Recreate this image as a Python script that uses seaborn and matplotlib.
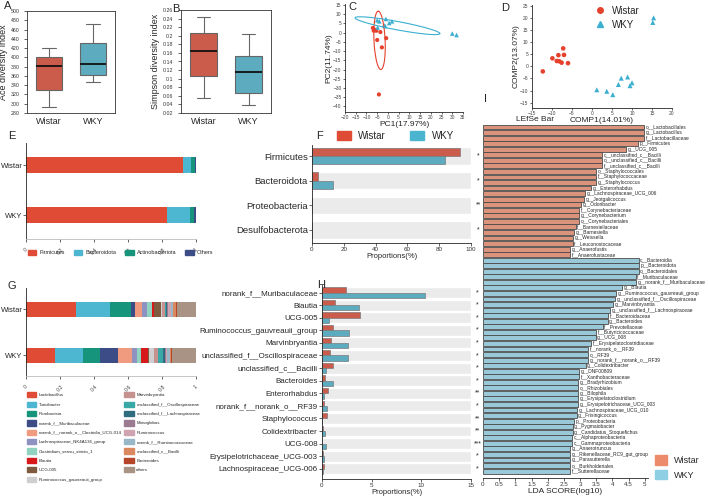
import numpy as np
import pandas as pd
import matplotlib
matplotlib.use("Agg")
import matplotlib.pyplot as plt
import seaborn as sns
from matplotlib.patches import Patch
from matplotlib.lines import Line2D

# ---- data ----
groups = ["Wistar", "WKY"]

# A / B: min, q1, median, q3, max
ace_wistar = [292, 330, 382, 401, 420]
ace_wky = [347, 362, 385, 431, 473]
simpson_wistar = [0.055, 0.106, 0.165, 0.207, 0.243]
simpson_wky = [0.038, 0.067, 0.116, 0.152, 0.205]

# C: PCA
pca_wistar_x = [-7.0, -6.6, -6.1, -5.4, -3.5, -5.0, -0.8, -2.8, -4.2]
pca_wistar_y = [2.5, 1.0, 1.5, 1.0, 0.3, -4.0, -3.0, -8.0, -33.5]
pca_wky_x = [-5.0, -4.0, -4.8, -0.9, 0.6, 1.9, -1.8, -1.2, 30.0, 32.0]
pca_wky_y = [6.7, 6.1, 2.8, 7.4, 5.2, 6.1, 4.0, 3.5, -0.5, -1.3]
# ellipses: centre, major half-axis vector, minor half-axis vector
ell_wistar = [(-3.9, -4.2), (-0.6, 15.8), (2.6, 0.0)]
ell_wky = [(4.45, 3.75), (19.75, -4.25), (0.0, 2.3)]

# D: PLS-DA
comp_wistar_x = [-12.3, -9.9, -8.8, -8.4, -8.2, -7.6, -7.2, -7.0, -6.0]
comp_wistar_y = [-2.1, 3.3, 2.2, 4.6, 2.1, 1.5, 7.4, 4.7, 1.3]
comp_wky_x = [15.4, 15.2, 1.2, 3.7, 5.2, 7.3, 6.6, 8.9, 10.0, 9.5]
comp_wky_y = [20.0, 18.1, -9.7, -10.3, -11.7, -4.9, -7.5, -4.4, -6.8, -8.0]

# E: phylum composition
phyla = ["Firmicutes", "Bacteroidota", "Actinobacteriota", "Others"]
phyla_wistar = [0.925, 0.044, 0.025, 0.006]
phyla_wky = [0.831, 0.136, 0.019, 0.014]
phyla_colors = ["#E04B35", "#4DB6D1", "#17957C", "#3B4C86"]

# F: phylum differences
f_taxa = ["Firmicutes", "Bacteroidota", "Proteobacteria", "Desulfobacterota"]
f_wistar = [93.0, 4.0, 0.15, 0.1]
f_wky = [83.4, 13.4, 0.3, 0.05]
f_sig = ["*", "*", "**", "*"]

# G: genus composition
genera = ["Lactobacillus", "Turicibacter", "Romboutsia", "norank_f__Muribaculaceae",
          "norank_f__norank_o__Clostridia_UCG-014", "Lachnospiraceae_NK4A136_group",
          "Clostridium_sensu_stricto_1", "Blautia", "UCG-005", "Ruminococcus_gauvreauii_group",
          "Marvinbryantia", "unclassified_f__Oscillospiraceae", "unclassified_f__Lachnospiraceae",
          "Monoglobus", "Ruminococcus", "norank_f__Ruminococcaceae", "unclassified_c__Bacilli",
          "Bacteroides", "others"]
genera_wistar = [0.295, 0.202, 0.122, 0.022, 0.041, 0.031, 0.028, 0.010, 0.043, 0.008,
                 0.014, 0.008, 0.006, 0.006, 0.016, 0.012, 0.020, 0.003, 0.113]
genera_wky = [0.171, 0.167, 0.098, 0.104, 0.085, 0.029, 0.022, 0.041, 0.005, 0.030,
              0.024, 0.028, 0.014, 0.008, 0.006, 0.014, 0.004, 0.010, 0.140]
genera_colors = ["#E04B35", "#4DB6D1", "#17957C", "#3B4C86", "#F09A80", "#8D92C0",
                 "#8FD3C0", "#D7191C", "#7E5B3E", "#CFCFCF", "#C59290", "#3AA8A6",
                 "#2F6C80", "#9A7B91", "#CFA3B0", "#9AB7C8", "#D9885F", "#B5462A", "#A99385"]

# H: genus differences
h_taxa = ["norank_f__Muribaculaceae", "Blautia", "UCG-005", "Ruminococcus_gauvreauii_group",
          "Marvinbryantia", "unclassified_f__Oscillospiraceae", "unclassified_c__Bacilli",
          "Bacteroides", "Enterorhabdus", "norank_f__norank_o__RF39", "Staphylococcus",
          "Colidextribacter", "UCG-008", "Erysipelotrichaceae_UCG-003", "Lachnospiraceae_UCG-006"]
h_wistar = [2.4, 1.3, 3.8, 1.1, 0.9, 0.85, 1.15, 0.27, 0.6, 0.2, 0.55, 0.1, 0.03, 0.1, 0.2]
h_wky = [10.4, 3.7, 0.7, 2.7, 2.6, 2.6, 0.45, 1.15, 0.22, 0.5, 0.03, 0.3, 0.38, 0.2, 0.1]
h_sig = ["*", "*", "*", "*", "*", "*", "*", "*", "**", "*", "**", "**", "***", "*", "*"]

# I: LEfSe
lefse_wistar_taxa = ["o__Lactobacillales", "g__Lactobacillus", "f__Lactobacillaceae", "p__Firmicutes",
                     "g__UCG_005", "c__unclassified_c__Bacilli", "o__unclassified_c__Bacilli",
                     "f__unclassified_c__Bacilli", "o__Staphylococcales", "f__Staphylococcaceae",
                     "g__Staphylococcus", "g__Enterorhabdus", "g__Lachnospiraceae_UCG_006",
                     "g__Jeotgalicoccus", "g__Odoribacter", "f__Corynebacteriaceae",
                     "g__Corynebacterium", "o__Corynebacteriales", "f__Barnesiellaceae",
                     "g__Barnesiella", "g__Weissella", "f__Leuconostocaceae", "g__Anaerofustis",
                     "f__Anaerofustaceae"]
lefse_wistar_lda = [4.98, 4.98, 4.98, 4.79, 4.42, 3.68, 3.68, 3.68, 3.50, 3.49, 3.49, 3.35, 3.16,
                    3.12, 3.02, 2.97, 2.97, 2.96, 2.86, 2.82, 2.78, 2.77, 2.70, 2.70]
lefse_wky_taxa = ["c__Bacteroidia", "p__Bacteroidota", "o__Bacteroidales", "f__Muribaculaceae",
                  "g__norank_f__Muribaculaceae", "g__Blautia", "g__Ruminococcus_gauvreauii_group",
                  "g__unclassified_f__Oscillospiraceae", "g__Marvinbryantia",
                  "g__unclassified_f__Lachnospiraceae", "f__Bacteroidaceae", "g__Bacteroides",
                  "f__Prevotellaceae", "f__Butyricicoccaceae", "g__UCG_008",
                  "f__Erysipelatoclostridiaceae", "f__norank_o__RF39", "o__RF39",
                  "g__norank_f__norank_o__RF39", "g__Colidextribacter", "g__DNF00809",
                  "f__Xanthobacteraceae", "g__Bradyrhizobium", "o__Rhizobiales", "g__Bilophila",
                  "g__Erysipelatoclostridium", "g__Erysipelotrichaceae_UCG_003",
                  "g__Lachnospiraceae_UCG_010", "g__Frisingicoccus", "p__Proteobacteria",
                  "g__Pygmaiobacter", "g__Candidatus_Stoquefichus", "c__Alphaproteobacteria",
                  "c__Gammaproteobacteria", "g__Anaerotruncus", "g__Rikenellaceae_RC9_gut_group",
                  "g__Parasutterella", "o__Burkholderiales", "f__Sutterellaceae"]
lefse_wky_lda = [4.81, 4.81, 4.81, 4.72, 4.72, 4.30, 4.10, 4.08, 4.02, 3.94, 3.87, 3.85, 3.70,
                 3.49, 3.48, 3.35, 3.26, 3.24, 3.24, 3.17, 2.97, 2.97, 2.95, 2.94, 2.93, 2.93,
                 2.93, 2.90, 2.89, 2.80, 2.77, 2.77, 2.75, 2.75, 2.70, 2.70, 2.70, 2.69, 2.69]

RED = "#E04B35"
BLUE = "#4BB5D0"
LEF_RED = "#EC8B6C"
LEF_BLUE = "#8ECFE3"

sns.set_style("ticks")
plt.rcParams["font.family"] = ["Liberation Sans", "DejaVu Sans"]
plt.rcParams["axes.linewidth"] = 0.6
plt.rcParams["xtick.major.width"] = 0.5
plt.rcParams["ytick.major.width"] = 0.5
plt.rcParams["xtick.major.size"] = 2
plt.rcParams["ytick.major.size"] = 2

W, H = 708, 497
fig = plt.figure(figsize=(W / 100, H / 100), dpi=100)


def rect(l, t, r, b):
    return [l / W, 1 - b / H, (r - l) / W, (b - t) / H]


def letter(x, y, s):
    fig.text(x / W, 1 - y / H, s, fontsize=8, va="top", ha="left")


# ---- A, B boxplots ----
def box_panel(pos, wistar, wky, ylabel, ylim, ticks, fmt):
    ax = fig.add_axes(rect(*pos))
    df = pd.DataFrame({"group": ["Wistar"] * len(wistar) + ["WKY"] * len(wky),
                       "value": wistar + wky})
    sns.boxplot(data=df, x="group", y="value", hue="group", palette=[RED, BLUE], width=0.6,
                whis=np.inf, linecolor="#666666", linewidth=0.8, legend=False, ax=ax,
                medianprops={"color": "#111111", "linewidth": 1.3})
    ax.set_ylim(*ylim)
    ax.set_yticks(ticks)
    ax.set_yticklabels([fmt(t) for t in ticks], fontsize=3.8, color="#333333")
    ax.tick_params(axis="x", labelsize=6.5, length=0, pad=3)
    ax.set_xlabel("")
    ax.set_ylabel(ylabel, fontsize=6.5, labelpad=2)
    for s in ax.spines.values():
        s.set_color("#333333")
    return ax


box_panel((27, 11, 115, 113), ace_wistar, ace_wky, "Ace diversity index", (280, 500),
          np.arange(280, 501, 20), lambda t: f"{t:.0f}")
box_panel((181, 10, 271, 113), simpson_wistar, simpson_wky, "Simpson diversity index",
          (0.02, 0.26), np.round(np.arange(0.02, 0.261, 0.02), 2), lambda t: f"{t:g}")
letter(4, 1, "A")
letter(172, 4, "B")

# ---- C PCA ----
axc = fig.add_axes(rect(345, 4, 463, 112))
sns.scatterplot(x=pca_wistar_x, y=pca_wistar_y, color="#E5412D", marker="o", s=9,
                edgecolor="none", ax=axc)
sns.scatterplot(x=pca_wky_x, y=pca_wky_y, color="#3BAFD0", marker="^", s=11,
                edgecolor="none", ax=axc)
t = np.linspace(0, 2 * np.pi, 200)
for (c, u, v), col in [(ell_wistar, "#E5412D"), (ell_wky, "#3BAFD0")]:
    axc.plot(c[0] + u[0] * np.cos(t) + v[0] * np.sin(t),
             c[1] + u[1] * np.cos(t) + v[1] * np.sin(t), color=col, lw=0.8)
axc.set_xlim(-20, 35)
axc.set_ylim(-43, 15.5)
axc.set_xticks(np.arange(-20, 36, 5))
axc.set_yticks(np.arange(-40, 16, 5))
axc.tick_params(labelsize=3.5, labelcolor="#444444", pad=1, length=1.5)
axc.set_xlabel("PC1(17.97%)", fontsize=6, labelpad=0.5)
axc.set_ylabel("PC2(11.74%)", fontsize=6, labelpad=0.5)
sns.despine(ax=axc)
letter(348, 2, "C")

# ---- D PLS-DA ----
axd = fig.add_axes(rect(532, 5, 672, 108))
sns.scatterplot(x=comp_wistar_x, y=comp_wistar_y, color="#E5412D", marker="o", s=11,
                edgecolor="none", ax=axd)
sns.scatterplot(x=comp_wky_x, y=comp_wky_y, color="#3BAFD0", marker="^", s=13,
                edgecolor="none", ax=axd)
axd.set_xlim(-15, 20)
axd.set_ylim(-17.2, 25.3)
axd.set_xticks(np.arange(-15, 21, 5))
axd.set_yticks(np.arange(-15, 26, 5))
axd.tick_params(labelsize=3.5, labelcolor="#444444", pad=1, length=1.5)
axd.set_xlabel("COMP1(14.01%)", fontsize=6, labelpad=0.5)
axd.set_ylabel("COMP2(13.07%)", fontsize=6, labelpad=0.5)
sns.despine(ax=axd)
axd.legend(handles=[Line2D([], [], marker="o", ls="", color="#E5412D", ms=4, label="Wistar"),
                    Line2D([], [], marker="^", ls="", color="#3BAFD0", ms=4, label="WKY")],
           loc="upper left", bbox_to_anchor=(0.37, 1.06), frameon=False, fontsize=7,
           handletextpad=0.2, labelspacing=0.4, borderpad=0.2)
letter(501, 3, "D")


# ---- stacked composition bars ----
def stacked(ax, wistar, wky, colors):
    left_w, left_k = 0.0, 0.0
    for vw, vk, col in zip(wistar, wky, colors):
        ax.barh([0, 1], [vw, vk], left=[left_w, left_k], height=0.33, color=col,
                edgecolor="none")
        left_w += vw
        left_k += vk
    ax.set_xlim(0, 1)
    ax.set_yticks([0, 1])
    ax.set_yticklabels(groups, fontsize=5.5)
    ax.set_xticks([0, 0.2, 0.4, 0.6, 0.8, 1])
    ax.set_xticklabels(["0", "0.2", "0.4", "0.6", "0.8", "1"], fontsize=3.8, rotation=45,
                       color="#444444")
    ax.spines["top"].set_visible(False)
    ax.spines["right"].set_visible(False)
    ax.spines["bottom"].set_color("#bbbbbb")
    ax.tick_params(axis="y", length=2, pad=0.5)


axe = fig.add_axes(rect(26, 143, 196, 239))
stacked(axe, phyla_wistar, phyla_wky, phyla_colors)
axe.set_ylim(1.48, -0.44)
axe.legend(handles=[Patch(color=c, label=p) for p, c in zip(phyla, phyla_colors)],
           loc="upper left", bbox_to_anchor=(-0.02, -0.06), ncol=4, frameon=False,
           fontsize=4, handlelength=1.6, handleheight=1.0, columnspacing=1.6,
           handletextpad=0.5)
letter(8, 131, "E")

axg = fig.add_axes(rect(26, 288, 196, 376))
stacked(axg, genera_wistar, genera_wky, genera_colors)
axg.set_ylim(1.446, -0.467)
axg.legend(handles=[Patch(color=c, label=g) for g, c in zip(genera, genera_colors)],
           loc="upper left", bbox_to_anchor=(-0.02, -0.14), ncol=2, frameon=False,
           fontsize=3.2, handlelength=2.2, handleheight=1.4, labelspacing=0.95,
           columnspacing=0.4, handletextpad=0.6)
letter(8, 281, "G")


# ---- F, H difference bars ----
def diff_panel(pos, taxa, wistar, wky, sig, xmax, xticks, ylim, width, label_fs):
    ax = fig.add_axes(rect(*pos))
    df = pd.DataFrame({"taxon": taxa * 2,
                       "value": wistar + wky,
                       "group": ["Wistar"] * len(taxa) + ["WKY"] * len(taxa)})
    sns.barplot(data=df, x="value", y="taxon", hue="group", palette=[RED, BLUE], width=width,
                orient="h", edgecolor="#7a7a7a", linewidth=0.5, legend=False, ax=ax,
                zorder=2)
    ax.barh(np.arange(len(taxa)), xmax, height=width + 0.02, color="#ebebeb", zorder=0)
    ax.set_xlim(0, xmax)
    ax.set_ylim(*ylim)
    ax.set_xticks(xticks)
    ax.tick_params(axis="x", labelsize=4.5, labelcolor="#333333", pad=1)
    ax.tick_params(axis="y", labelsize=label_fs, length=2, pad=1)
    ax.set_ylabel("")
    ax.set_xlabel("Proportions(%)", fontsize=5.5, labelpad=0.5)
    ax.spines["top"].set_visible(False)
    ax.spines["right"].set_visible(False)
    for i, s in enumerate(sig):
        ax.text(1.045, i, s, transform=ax.get_yaxis_transform(), fontsize=5, ha="center",
                va="center")
    return ax


axf = diff_panel((312, 145, 471, 243), f_taxa, f_wistar, f_wky, f_sig, 100,
                 np.arange(0, 101, 20), (3.53, -0.45), 0.68, 6.8)
axf.legend(handles=[Patch(color=RED, label="Wistar"), Patch(color=BLUE, label="WKY")],
           loc="lower left", bbox_to_anchor=(0.12, 0.98), ncol=2, frameon=False, fontsize=7,
           handlelength=1.4, handleheight=1.1, columnspacing=2.5, borderpad=0.1)
letter(316, 131, "F")

axh = diff_panel((322, 285, 471, 479), h_taxa, h_wistar, h_wky, h_sig, 15,
                 [0, 5, 10, 15], (14.81, -0.6), 0.84, 5.8)
letter(317, 280, "H")

# ---- I LEfSe ----
axi = fig.add_axes(rect(483, 124, 648, 478))
lef = pd.DataFrame({"taxon": lefse_wistar_taxa + lefse_wky_taxa,
                    "lda": lefse_wistar_lda + lefse_wky_lda,
                    "group": ["Wistar"] * len(lefse_wistar_taxa) + ["WKY"] * len(lefse_wky_taxa)})
sns.barplot(data=lef, x="lda", y="taxon", hue="group", palette=[LEF_RED, LEF_BLUE],
            dodge=False, width=0.88, orient="h", edgecolor="#4a4a4a", linewidth=0.6,
            legend=False, ax=axi)
for i, (name, v) in enumerate(zip(lef["taxon"], lef["lda"])):
    axi.text(v + 0.05, i, name, fontsize=3.5, va="center", ha="left")
axi.set_xlim(0, 5.1)
axi.set_ylim(len(lef) - 1 + 1.25, -0.54)
axi.set_yticks([])
axi.set_ylabel("")
axi.set_xticks(np.arange(0, 5.01, 0.5))
axi.set_xticklabels(["0", "0.5", "1", "1.5", "2", "2.5", "3", "3.5", "4", "4.5", "5"])
axi.tick_params(axis="x", labelsize=4.5, labelcolor="#333333", pad=1)
axi.set_xlabel("LDA SCORE(log10)", fontsize=6, labelpad=0.5)
for s in ["top", "right", "left"]:
    axi.spines[s].set_visible(False)
axi.text(0.2, 1.003, "LEfSe Bar", transform=axi.transAxes, fontsize=6, ha="left", va="bottom")
fig.legend(handles=[Patch(color=LEF_RED, label="Wistar"), Patch(color=LEF_BLUE, label="WKY")],
           loc="upper left", bbox_to_anchor=(647 / W, 1 - 447 / H), frameon=False, fontsize=6.5,
           handlelength=1.3, handleheight=1.3, labelspacing=0.5)
letter(484, 94, "I")

fig.savefig("out.png", dpi=100)
